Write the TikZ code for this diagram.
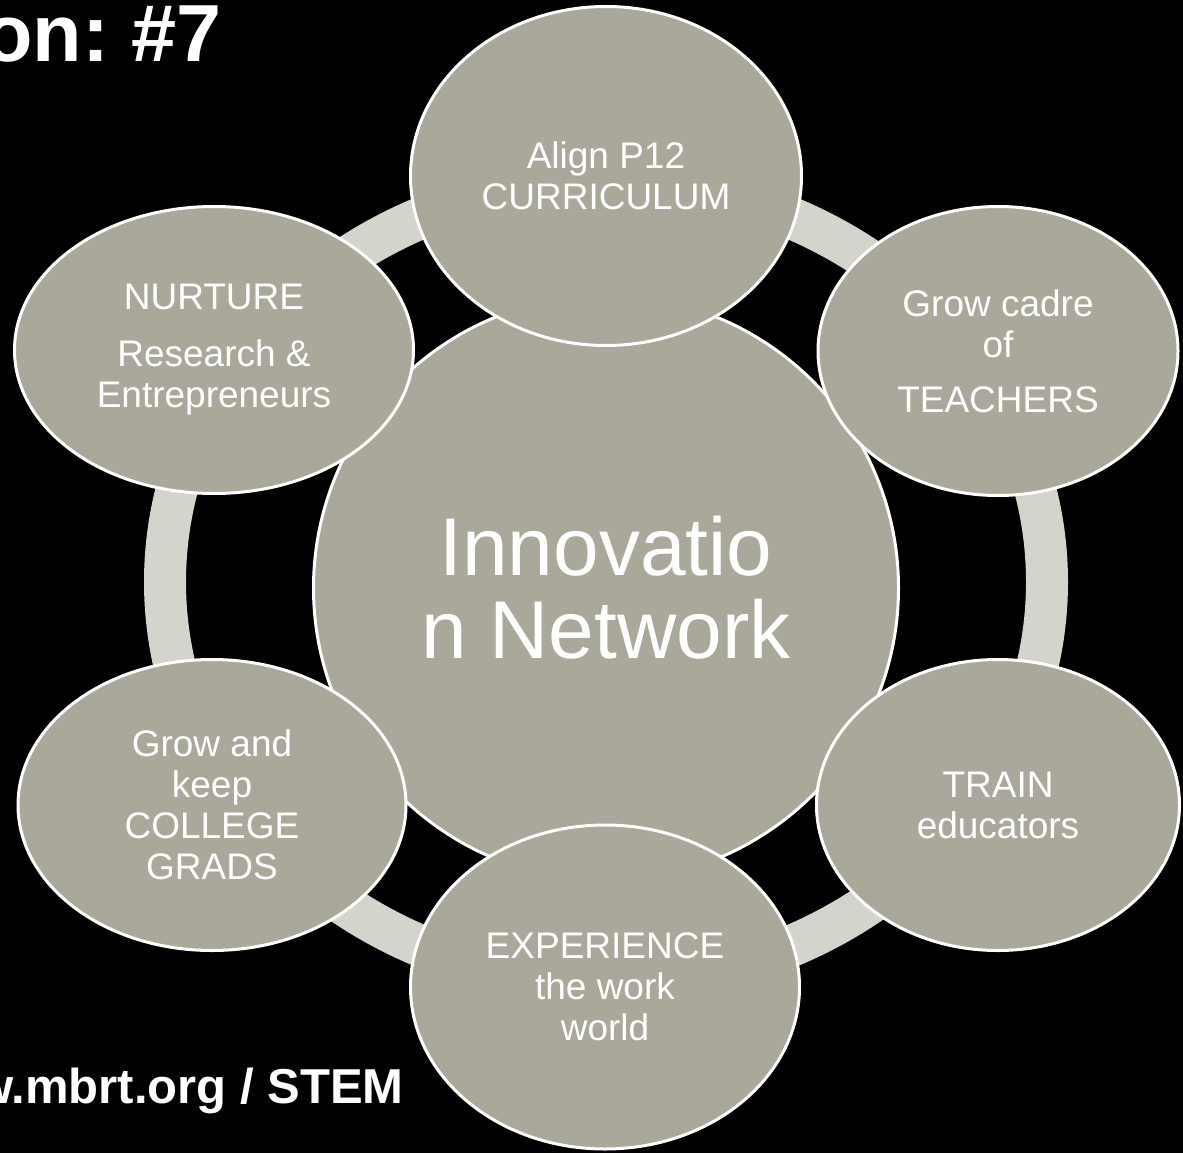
\documentclass[tikz,border=0pt]{standalone}
\usepackage{fontspec}
\setmainfont{Liberation Sans}
\usetikzlibrary{shapes.geometric}
\frenchspacing

\definecolor{petalgrey}{HTML}{A9A89A}
\definecolor{ringgrey}{HTML}{D4D4CC}

\tikzset{
	petal/.style={ellipse,fill=petalgrey,draw=white,line width=3pt,text=white,
		align=center,inner sep=0pt,font=\fontsize{37}{41}\selectfont},
	hub/.style={circle,fill=petalgrey,draw=white,line width=3pt,text=white,
		align=center,inner sep=0pt,minimum size=585pt,font=\fontsize{82}{83}\selectfont},
	heading/.style={text=white,inner sep=0pt,anchor=base east}
}

\begin{document}
\begin{tikzpicture}[x=1pt,y=-1pt]
	\fill[black] (0,0) rectangle (1183,1153);
	\clip (0,0) rectangle (1183,1153);
	% ring behind everything
	\draw[ringgrey,line width=42pt] (606,582) ellipse [x radius=441, y radius=401];
	\node[hub] (net) at (606,588) {Innovatio\\n Network};
	% the six ellipses round the hub
	\node[petal,minimum width=391pt,minimum height=339pt] (curr) at (606,176) {Align P12\\CURRICULUM};
	\node[petal,minimum width=360pt,minimum height=289pt] (teach) at (998,351) {Grow cadre\\of\\[14pt]TEACHERS};
	\node[petal,minimum width=363pt,minimum height=291pt] (train) at (998,805) {TRAIN\\educators};
	\node[petal,minimum width=389pt,minimum height=324pt] (work) at (605,987) {EXPERIENCE\\the work\\world};
	\node[petal,minimum width=388pt,minimum height=291pt] (grads) at (212,805) {Grow and\\keep\\COLLEGE\\GRADS};
	\node[petal,minimum width=399pt,minimum height=287pt] (nurture) at (214,350) {NURTURE\\[16pt]Research \&\\Entrepreneurs};
	% cut-off slide texts
	\node[heading,font=\bfseries\fontsize{81}{81}\selectfont] (title) at (222,62) {on: \#7};
	\node[heading,font=\bfseries\fontsize{49}{49}\selectfont] (url) at (404,1103) {w.mbrt.org / STEM};
\end{tikzpicture}
\end{document}
